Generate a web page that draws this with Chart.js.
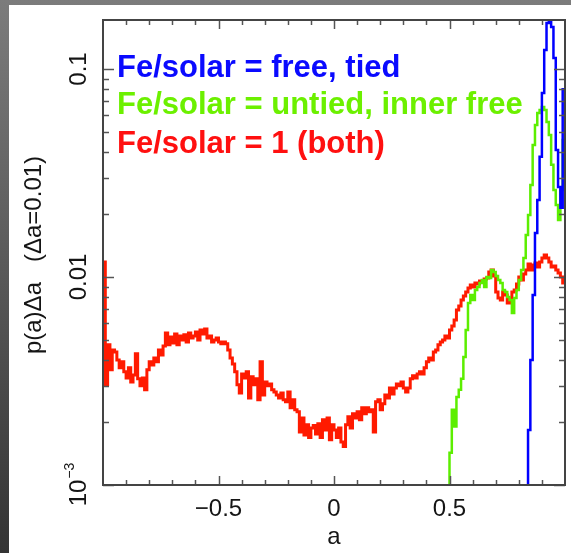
<!DOCTYPE html>
<html>
<head>
<meta charset="utf-8">
<script src="https://cdn.jsdelivr.net/npm/chart.js@4.4.0/dist/chart.umd.min.js"></script>
<style>
  html, body { margin: 0; padding: 0; background: #fff; }
  #wrap { width: 571px; height: 553px; }
</style>
</head>
<body>
<div id="wrap"><canvas id="c" width="571" height="553"></canvas></div>
<script>
// histogram of a, bins of width 0.01 from -1 to 1 (left edges)
const binStart = -1;
const binWidth = 0.01;

// Fe/solar = 1 (both) -- red, bins 0..199
const redBoth = [
  0.0118, 0.00303, 0.00472, 0.00358, 0.00446, 0.00436, 0.00399, 0.00366, 0.00391, 0.00350,
  0.00327, 0.00366, 0.00313, 0.00338, 0.00427, 0.00324, 0.00300, 0.00327, 0.00287, 0.00358,
  0.00391, 0.00378, 0.00408, 0.00391, 0.00446, 0.00422, 0.00466, 0.00538, 0.00472, 0.00515,
  0.00482, 0.00532, 0.00472, 0.00521, 0.00498, 0.00527, 0.00487, 0.00538, 0.00509, 0.00521,
  0.00544, 0.00498, 0.00556, 0.00532, 0.00563, 0.00509, 0.00521, 0.00487, 0.00498, 0.00509,
  0.00487, 0.00477, 0.00487, 0.00477, 0.00446, 0.00408, 0.00382, 0.00350, 0.00303, 0.00277,
  0.00342, 0.00327, 0.00350, 0.00262, 0.00331, 0.00303, 0.00324, 0.00257, 0.00391, 0.00271,
  0.00313, 0.00300, 0.00306, 0.00287, 0.00280, 0.00271, 0.00262, 0.00277, 0.00257, 0.00251,
  0.00280, 0.00235, 0.00257, 0.00230, 0.00225, 0.00180, 0.00210, 0.00174, 0.00195, 0.00169,
  0.00188, 0.00193, 0.00176, 0.00197, 0.00169, 0.00206, 0.00184, 0.00210, 0.00165, 0.00195,
  0.00184, 0.00169, 0.00188, 0.00161, 0.00153, 0.00195, 0.00213, 0.00188, 0.00220, 0.00210,
  0.00225, 0.00206, 0.00235, 0.00220, 0.00235, 0.00225, 0.00230, 0.00180, 0.00251, 0.00257,
  0.00230, 0.00246, 0.00271, 0.00262, 0.00293, 0.00274, 0.00293, 0.00306, 0.00300, 0.00313,
  0.00293, 0.00280, 0.00293, 0.00324, 0.00335, 0.00327, 0.00342, 0.00350, 0.00342, 0.00366,
  0.00391, 0.00408, 0.00399, 0.00436, 0.00446, 0.00472, 0.00487, 0.00498, 0.00521, 0.00509,
  0.00556, 0.00582, 0.00622, 0.00694, 0.00726, 0.00776, 0.00810, 0.00847, 0.00885, 0.00915,
  0.00895, 0.00936, 0.00925, 0.00957, 0.00946, 0.00978, 0.00989, 0.01057, 0.01081, 0.01011,
  0.00847, 0.00793, 0.00776, 0.00847, 0.00820, 0.00750, 0.00793, 0.00847, 0.00866, 0.00925,
  0.0100, 0.00967, 0.01034, 0.01081, 0.01155, 0.01081, 0.01142, 0.01168, 0.01117, 0.01181,
  0.01234, 0.01276, 0.01234, 0.01181, 0.01117, 0.01129, 0.01081, 0.01046, 0.0100, 0.00936
];

// Fe/solar = untied, inner free -- green, starts at bin 149 (a = 0.49)
const greenStartBin = 149;
const greenUntied = [
  0.0008, 0.00143, 0.00230, 0.00191, 0.00265, 0.00287, 0.00324, 0.00413, 0.00556, 0.00750,
  0.00820, 0.00776, 0.00866, 0.00895, 0.00936, 0.00967, 0.00895, 0.0100, 0.00989, 0.01081,
  0.01057, 0.01011, 0.00967, 0.00936, 0.00866, 0.00847, 0.00802, 0.00776, 0.00672, 0.00793,
  0.00866, 0.00967, 0.01081, 0.01234, 0.01592, 0.01987, 0.02769, 0.0431, 0.0538, 0.0615,
  0.0635, 0.0657, 0.0635, 0.0556, 0.0482, 0.0346, 0.0262, 0.0222, 0.0188, 0.0262,
  0.0456
];

// Fe/solar = free, tied -- blue, starts at bin 183 (a = 0.83)
const blueStartBin = 183;
const blueTied = [
  0.0008, 0.00184, 0.00399, 0.00820, 0.01627, 0.02344, 0.0378, 0.0767, 0.1234, 0.1664,
  0.175, 0.159, 0.113, 0.0408, 0.0271, 0.0215, 0.080
];

const seriesLabels = ['Fe/solar = free, tied', 'Fe/solar = untied, inner free', 'Fe/solar = 1 (both)'];
const seriesColors = ['#0000ff', '#5cee00', '#ff1a00'];
const legendColors = ['#0a0aff', '#6cf000', '#ff1010'];

const xMajorTicks = [-0.5, 0, 0.5];
const xMajorLabels = ['\u22120.5', '0', '0.5'];
const xMinorTicks = [-0.9, -0.8, -0.7, -0.6, -0.4, -0.3, -0.2, -0.1, 0.1, 0.2, 0.3, 0.4, 0.6, 0.7, 0.8, 0.9];
const yMajorTicks = [0.001, 0.01, 0.1];
const yMajorLabels = [['10', '\u22123'], ['0.01', ''], ['0.1', '']];
const yMinorTicks = [0.002, 0.003, 0.004, 0.005, 0.006, 0.007, 0.008, 0.009,
                     0.02, 0.03, 0.04, 0.05, 0.06, 0.07, 0.08, 0.09];

function toPoints(vals, startBin) {
  var pts = vals.map(function (v, k) {
    return { x: binStart + (startBin + k) * binWidth, y: v };
  });
  // close the last bin
  pts.push({ x: binStart + (startBin + vals.length) * binWidth, y: vals[vals.length - 1] });
  return pts;
}

const FONT = '"Liberation Sans", Arial, Helvetica, sans-serif';

const framePlugin = {
  id: 'frame',
  beforeDraw: function (chart) {
    var c = chart.ctx;
    c.save();
    var g = c.createLinearGradient(0, 0, 0, chart.height);
    g.addColorStop(0, '#7c7c7c');
    g.addColorStop(1, '#343434');
    c.fillStyle = g;
    c.fillRect(0, 0, chart.width, chart.height);
    c.fillStyle = '#ffffff';
    c.fillRect(9, 5, chart.width - 9, chart.height - 5);
    c.restore();
  },
  afterDatasetsDraw: function (chart) {
    var c = chart.ctx;
    var xs = chart.scales.x, ys = chart.scales.y;
    var L = xs.getPixelForValue(-1), R = xs.getPixelForValue(1);
    var T = chart.chartArea.top, B = ys.getPixelForValue(0.001);
    c.save();
    c.strokeStyle = '#555555';
    c.lineWidth = 1.5;
    // ticks
    function xt(v, len) {
      var p = Math.round(xs.getPixelForValue(v)) + 0.5;
      c.beginPath(); c.moveTo(p, B); c.lineTo(p, B - len); c.stroke();
      c.beginPath(); c.moveTo(p, T); c.lineTo(p, T + len); c.stroke();
    }
    function yt(v, len) {
      var p = Math.round(ys.getPixelForValue(v)) + 0.5;
      c.beginPath(); c.moveTo(L, p); c.lineTo(L + len, p); c.stroke();
      c.beginPath(); c.moveTo(R, p); c.lineTo(R - len, p); c.stroke();
    }
    xMinorTicks.forEach(function (v) { xt(v, 5); });
    xMajorTicks.forEach(function (v) { xt(v, 9); });
    yMinorTicks.forEach(function (v) { yt(v, 6); });
    yMajorTicks.forEach(function (v) { yt(v, 11); });
    // box
    c.strokeStyle = '#444444';
    c.lineWidth = 2;
    c.strokeRect(L, T, R - L, B - T);

    // x tick labels and title
    c.fillStyle = '#151515';
    c.font = '24px ' + FONT;
    c.textAlign = 'center';
    c.textBaseline = 'middle';
    xMajorTicks.forEach(function (v, i) {
      c.fillText(xMajorLabels[i], xs.getPixelForValue(v), 509);
    });
    c.fillText('a', (L + R) / 2, 537);

    // y tick labels, rotated
    yMajorTicks.forEach(function (v, i) {
      var base = yMajorLabels[i][0], sup = yMajorLabels[i][1];
      c.save();
      c.translate(79, ys.getPixelForValue(v));
      c.rotate(-Math.PI / 2);
      c.font = '24px ' + FONT;
      var w1 = c.measureText(base).width;
      c.font = '14px ' + FONT;
      var w2 = sup ? c.measureText(sup).width : 0;
      var x0 = -(w1 + w2) / 2;
      c.textAlign = 'left';
      c.font = '24px ' + FONT;
      c.fillText(base, x0, 0);
      if (sup) {
        c.font = '14px ' + FONT;
        c.fillText(sup, x0 + w1 + 1, -9);
      }
      c.restore();
    });

    // y title
    c.save();
    c.translate(34, 255);
    c.rotate(-Math.PI / 2);
    c.font = '24px ' + FONT;
    c.textAlign = 'center';
    c.fillText('p(a)\u0394a   (\u0394a=0.01)', 0, 0);
    c.restore();

    // legend
    c.font = 'bold 31px ' + FONT;
    c.textAlign = 'left';
    c.textBaseline = 'alphabetic';
    var baselines = [77, 114, 153];
    seriesLabels.forEach(function (s, i) {
      c.fillStyle = legendColors[i];
      c.fillText(s, 117, baselines[i]);
    });
    c.restore();
  }
};

var ctx = document.getElementById('c').getContext('2d');
var chart = new Chart(ctx, {
  type: 'line',
  data: {
    datasets: [
      {
        label: seriesLabels[0],
        data: toPoints(blueTied, blueStartBin),
        borderColor: seriesColors[0],
        borderWidth: 2.5,
        stepped: 'before',
        pointRadius: 0,
        order: 1
      },
      {
        label: seriesLabels[1],
        data: toPoints(greenUntied, greenStartBin),
        borderColor: seriesColors[1],
        borderWidth: 2.5,
        stepped: 'before',
        pointRadius: 0,
        order: 2
      },
      {
        label: seriesLabels[2],
        data: toPoints(redBoth, 0),
        borderColor: seriesColors[2],
        borderWidth: 3,
        stepped: 'before',
        pointRadius: 0,
        order: 3
      }
    ]
  },
  options: {
    responsive: false,
    animation: false,
    layout: { padding: { left: 103, top: 20, right: 6, bottom: 68 } },
    scales: {
      x: { type: 'linear', min: -1, max: 1, display: false },
      y: { type: 'logarithmic', min: 0.001, max: 0.172, display: false }
    },
    plugins: {
      legend: { display: false },
      tooltip: { enabled: false }
    }
  },
  plugins: [framePlugin]
});
</script>
</body>
</html>
